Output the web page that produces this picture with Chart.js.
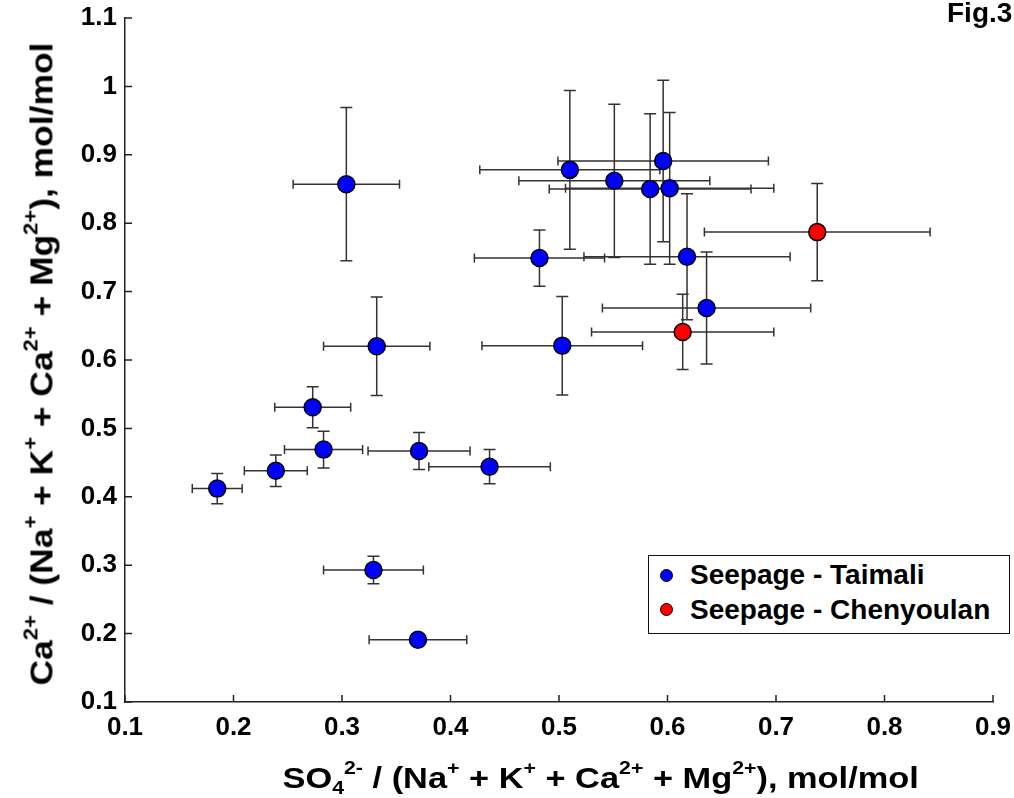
<!DOCTYPE html>
<html>
<head>
<meta charset="utf-8">
<script src="https://cdn.jsdelivr.net/npm/chart.js@4.4.0/dist/chart.umd.min.js"></script>
<style>
    html, body { margin: 0; padding: 0; background: #fff; overflow: hidden; }
    body { width: 1014px; height: 798px; position: relative; font-family: "Liberation Sans", Arial, sans-serif; font-weight: bold; color: #000; }
    #wrap { position: absolute; left: 0; top: 0; width: 1014px; height: 798px; }
    .txt { position: absolute; white-space: nowrap; }
    .sup { font-size: 0.62em; position: relative; top: -0.75em; }
    .sub { font-size: 0.62em; position: relative; top: 0.35em; }
    #xtitle { font-size: 30px; line-height: 30px; transform-origin: center center; }
    #ytitle { font-size: 32px; line-height: 32px; transform-origin: center center; }
    #fig { left: 947px; top: -1px; font-size: 28px; line-height: 28px; }
    #legendBox { position: absolute; left: 648px; top: 555px; width: 362px; height: 79px; box-sizing: border-box; border: 1.5px solid #111; background: #fff; }
    .legDot { position: absolute; width: 11px; height: 11px; border-radius: 50%; border: 1px solid #000; }
    .legText { font-size: 28px; line-height: 28px; }
</style>
</head>
<body>
<div id="wrap"><canvas id="scatter" width="1014" height="798"></canvas></div>

<div class="txt" id="xtitle">SO<span class="sub">4</span><span class="sup">2-</span> / (Na<span class="sup">+</span> + K<span class="sup">+</span> + Ca<span class="sup">2+</span> + Mg<span class="sup">2+</span>), mol/mol</div>
<div class="txt" id="ytitle">Ca<span class="sup">2+</span> / (Na<span class="sup">+</span> + K<span class="sup">+</span> + Ca<span class="sup">2+</span> + Mg<span class="sup">2+</span>), mol/mol</div>
<div class="txt" id="fig">Fig.3</div>

<div id="legendBox"></div>
<div class="legDot" style="left:660px; top:569px; background:#0000ff;"></div>
<div class="txt legText" style="left:690px; top:561px;">Seepage - Taimali</div>
<div class="legDot" style="left:660px; top:603px; background:#ff0000;"></div>
<div class="txt legText" style="left:690px; top:596px;">Seepage - Chenyoulan</div>

<script>
// Seepage - Taimali: ratios and their error ranges
var taimaliSO4 = [0.304, 0.332, 0.273, 0.283, 0.371, 0.436, 0.239, 0.185, 0.329, 0.370,
                  0.510, 0.551, 0.596, 0.584, 0.602, 0.618, 0.482, 0.636, 0.503];
var taimaliCa = [0.857, 0.620, 0.531, 0.469, 0.467, 0.444, 0.438, 0.412, 0.293, 0.191,
                 0.878, 0.862, 0.891, 0.850, 0.851, 0.751, 0.749, 0.676, 0.621];
var taimaliSO4Err = [0.049, 0.049, 0.035, 0.036, 0.047, 0.056, 0.029, 0.023, 0.046, 0.045,
                     0.083, 0.088, 0.097, 0.093, 0.096, 0.095, 0.060, 0.096, 0.074];
var taimaliCaErr = [0.112, 0.072, 0.030, 0.027, 0.027, 0.025, 0.023, 0.022, 0.020, 0.008,
                    0.116, 0.112, 0.118, 0.110, 0.111, 0.092, 0.041, 0.082, 0.072];

// Seepage - Chenyoulan
var chenyoulanSO4 = [0.614, 0.738];
var chenyoulanCa = [0.641, 0.787];
var chenyoulanSO4Err = [0.084, 0.104];
var chenyoulanCaErr = [0.055, 0.071];

// Axis ticks
var xTicks = [0.1, 0.2, 0.3, 0.4, 0.5, 0.6, 0.7, 0.8, 0.9];
var yTicks = [0.1, 0.2, 0.3, 0.4, 0.5, 0.6, 0.7, 0.8, 0.9, 1.0, 1.1];

function makePoints(xs, ys, xe, ye){
    var pts = [];
    for (var i = 0; i < xs.length; i++)
        pts.push({x: xs[i], y: ys[i], xErr: xe[i], yErr: ye[i]});
    return pts;
}

function tickLabel(v){
    return parseFloat(v.toFixed(1)).toString();
}

// Error bars are drawn under the markers, from the scales
var errorBars = {
    id: 'errorBars',
    beforeDatasetsDraw: function(chart){
        var ctx = chart.ctx, xs = chart.scales.x, ys = chart.scales.y;
        ctx.save();
        ctx.strokeStyle = '#333';
        ctx.lineWidth = 1.5;
        chart.data.datasets.forEach(function(ds){
            ds.data.forEach(function(p){
                var px = xs.getPixelForValue(p.x), py = ys.getPixelForValue(p.y);
                var xl = xs.getPixelForValue(p.x - p.xErr), xr = xs.getPixelForValue(p.x + p.xErr);
                var yt = ys.getPixelForValue(p.y + p.yErr), yb = ys.getPixelForValue(p.y - p.yErr);
                ctx.beginPath();
                ctx.moveTo(xl, py); ctx.lineTo(xr, py);
                ctx.moveTo(xl, py - 4.5); ctx.lineTo(xl, py + 4.5);
                ctx.moveTo(xr, py - 4.5); ctx.lineTo(xr, py + 4.5);
                ctx.moveTo(px, yt); ctx.lineTo(px, yb);
                ctx.moveTo(px - 6, yt); ctx.lineTo(px + 6, yt);
                ctx.moveTo(px - 6, yb); ctx.lineTo(px + 6, yb);
                ctx.stroke();
            });
        });
        ctx.restore();
    }
};

// Tick marks pointing into the plot
var innerTicks = {
    id: 'innerTicks',
    afterDraw: function(chart){
        var ctx = chart.ctx, xs = chart.scales.x, ys = chart.scales.y;
        var area = chart.chartArea;
        ctx.save();
        ctx.strokeStyle = '#222';
        ctx.lineWidth = 1.5;
        ctx.beginPath();
        xTicks.forEach(function(t){
            var px = xs.getPixelForValue(t);
            ctx.moveTo(px, area.bottom); ctx.lineTo(px, area.bottom - 7);
        });
        yTicks.forEach(function(t){
            var py = ys.getPixelForValue(t);
            ctx.moveTo(area.left, py); ctx.lineTo(area.left + 7, py);
        });
        ctx.stroke();
        ctx.restore();
    }
};

var tickFont = {family: 'Liberation Sans', weight: 'bold', size: 26};

var chart = new Chart(document.getElementById('scatter'), {
    type: 'scatter',
    data: {
        datasets: [
        {
            label: 'Seepage - Taimali',
            data: makePoints(taimaliSO4, taimaliCa, taimaliSO4Err, taimaliCaErr),
            backgroundColor: '#0000ff',
            borderColor: '#000',
            borderWidth: 1.5,
            pointRadius: 8.5,
            pointHoverRadius: 8.5
        },
        {
            label: 'Seepage - Chenyoulan',
            data: makePoints(chenyoulanSO4, chenyoulanCa, chenyoulanSO4Err, chenyoulanCaErr),
            backgroundColor: '#ff0000',
            borderColor: '#000',
            borderWidth: 1.5,
            pointRadius: 8.5,
            pointHoverRadius: 8.5
        }]
    },
    options: {
        responsive: false,
        animation: false,
        layout: {padding: {left: 0, top: 18, right: 21, bottom: 0}},
        plugins: {legend: {display: false}, tooltip: {enabled: false}},
        scales: {
            x: {
                type: 'linear', min: 0.1, max: 0.9,
                afterBuildTicks: function(scale){ scale.ticks = xTicks.map(function(v){ return {value: v}; }); },
                afterFit: function(scale){
                    scale.height = 96;
                    scale.paddingLeft = 0;
                    scale.paddingRight = 0;
                },
                grid: {display: false, drawTicks: false},
                border: {display: true, color: '#222', width: 1.5},
                ticks: {font: tickFont, color: '#000', padding: 10, maxRotation: 0, callback: tickLabel}
            },
            y: {
                type: 'linear', min: 0.1, max: 1.1,
                afterBuildTicks: function(scale){ scale.ticks = yTicks.map(function(v){ return {value: v}; }); },
                afterFit: function(scale){
                    scale.width = 125;
                    scale.paddingTop = 0;
                    scale.paddingBottom = 0;
                },
                grid: {display: false, drawTicks: false},
                border: {display: true, color: '#222', width: 1.5},
                ticks: {font: tickFont, color: '#000', padding: 8, callback: tickLabel}
            }
        }
    },
    plugins: [errorBars, innerTicks]
});

// Fit the axis titles to the spans they take in the figure
function placeTitles(){
    var xt = document.getElementById('xtitle');
    var wx = xt.offsetWidth;
    xt.style.left = (600 - wx / 2) + 'px';
    xt.style.top = '762.6px';
    xt.style.transform = 'scaleX(' + (636 / wx) + ')';

    var yt = document.getElementById('ytitle');
    var wy = yt.offsetWidth;
    yt.style.left = (43.9 - wy / 2) + 'px';
    yt.style.top = (361.5 - 16) + 'px';
    yt.style.transform = 'rotate(-90deg) scaleX(' + (643 / wy) + ')';
}
placeTitles();
if (document.fonts) document.fonts.ready.then(placeTitles);
</script>
</body>
</html>
